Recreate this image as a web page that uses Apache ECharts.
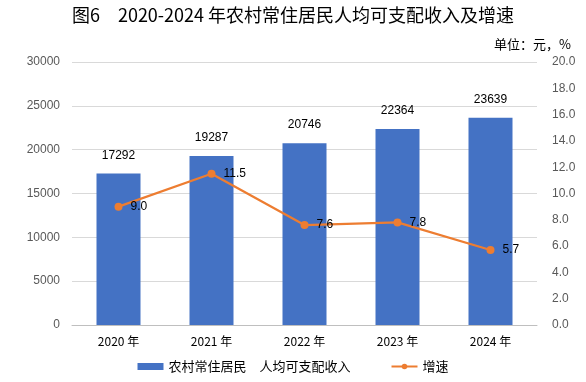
<!DOCTYPE html>
<html><head><meta charset="utf-8">
<script src="https://cdn.jsdelivr.net/npm/echarts@6/dist/echarts.min.js"></script>
<style>html,body{margin:0;padding:0;background:#fff}#c{width:586px;height:382px}</style>
</head><body><div id="c"></div>
<script>
var categories = ['2020 年','2021 年','2022 年','2023 年','2024 年'];
var income = [17292, 19287, 20746, 22364, 23639];
var growth = [9.0, 11.5, 7.6, 7.8, 5.7];
var FONT = '"Noto Sans CJK SC", "Noto Sans", sans-serif';
var NUMFONT = '"Liberation Sans", Arial, sans-serif';
var chart = echarts.init(document.getElementById('c'));
chart.setOption({
  animation: false,
  textStyle: {fontFamily: FONT},
  title: [
    {text: '图6　2020-2024 年农村常住居民人均可支配收入及增速', left: 'center', top: 1,
     textStyle: {fontSize: 18, fontWeight: 'normal', color: '#000', fontFamily: FONT}},
    {text: '单位：元，%', right: 10, top: 33,
     textStyle: {fontSize: 13, fontWeight: 'normal', color: '#000', fontFamily: FONT}}
  ],
  legend: {
    bottom: 4, left: 'center', itemGap: 40,
    textStyle: {fontSize: 13, color: '#000', fontFamily: FONT},
    data: [
      {name: '农村常住居民　人均可支配收入', icon: 'rect', itemStyle: {color: '#4472C4'}},
      {name: '增速'}
    ],
    itemWidth: 26, itemHeight: 7
  },
  grid: {left: 72, right: 49, top: 62, bottom: 57},
  xAxis: {
    type: 'category', data: categories,
    axisLine: {lineStyle: {color: '#BFBFBF'}},
    axisTick: {show: false},
    axisLabel: {color: '#000', fontSize: 12, margin: 10, fontFamily: FONT}
  },
  yAxis: [
    {type: 'value', min: 0, max: 30000, interval: 5000,
     axisLine: {show: false}, axisTick: {show: false},
     splitLine: {lineStyle: {color: '#D9D9D9'}},
     axisLabel: {color: '#595959', fontSize: 12, margin: 12, fontFamily: NUMFONT,
       formatter: function(v){return String(v);}}},
    {type: 'value', min: 0, max: 20, interval: 2,
     axisLine: {show: false}, axisTick: {show: false},
     splitLine: {show: false},
     axisLabel: {color: '#595959', fontSize: 12, margin: 15, fontFamily: NUMFONT,
       formatter: function(v){return v.toFixed(1);}}}
  ],
  series: [
    {name: '农村常住居民　人均可支配收入', type: 'bar', data: income, barWidth: 44,
     itemStyle: {color: '#4472C4'},
     label: {show: true, position: 'top', distance: 12, color: '#000', fontSize: 12, fontFamily: NUMFONT}},
    {name: '增速', type: 'line', yAxisIndex: 1, data: growth,
     symbol: 'circle', symbolSize: 8,
     lineStyle: {color: '#ED7D31', width: 2.25},
     itemStyle: {color: '#ED7D31'},
     label: {show: true, position: 'right', distance: 8, color: '#000', fontSize: 12, fontFamily: NUMFONT,
       formatter: function(p){return p.value.toFixed(1);}}}
  ]
});
</script></body></html>
